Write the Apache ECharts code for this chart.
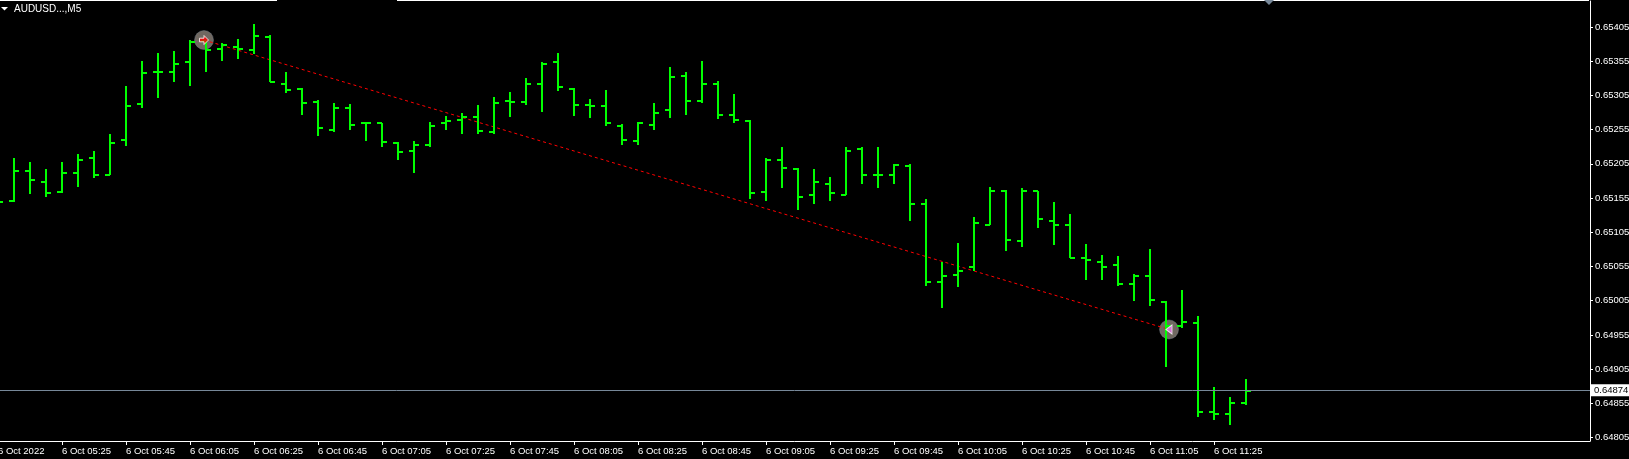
<!DOCTYPE html>
<html>
<head>
<meta charset="utf-8">
<title>AUDUSD M5</title>
<script src="https://cdn.jsdelivr.net/npm/echarts@6/dist/echarts.min.js"></script>
<style>
  html, body { margin: 0; padding: 0; background: #000; }
  #main { width: 1629px; height: 459px; }
</style>
</head>
<body>
<div id="main"></div>
<script>
// M5 bars, first one sits just off the left edge (05:05)
const opens = [0.65149, 0.65150, 0.65194, 0.65179, 0.65164, 0.65192, 0.65213, 0.65189, 0.65240, 0.65293, 0.65339, 0.65339, 0.65354, 0.65385, 0.65373, 0.65376, 0.65372, 0.65391, 0.65322, 0.65315, 0.65296, 0.65255, 0.65287, 0.65265, 0.65264, 0.65235, 0.65224, 0.65232, 0.65264, 0.65269, 0.65274, 0.65252, 0.65297, 0.65296, 0.65322, 0.65354, 0.65315, 0.65291, 0.65290, 0.65261, 0.65239, 0.65262, 0.65283, 0.65334, 0.65297, 0.65322, 0.65277, 0.65267, 0.65164, 0.65210, 0.65197, 0.65159, 0.65175, 0.65160, 0.65226, 0.65189, 0.65189, 0.65202, 0.65147, 0.65033, 0.65042, 0.65054, 0.65116, 0.65165, 0.65093, 0.65165, 0.65121, 0.65116, 0.65068, 0.65061, 0.65057, 0.65030, 0.65041, 0.65003, 0.64968, 0.64972, 0.64842, 0.64839, 0.64855]
const highs = [0.65165, 0.65214, 0.65208, 0.65198, 0.65208, 0.65220, 0.65224, 0.65249, 0.65319, 0.65355, 0.65367, 0.65370, 0.65386, 0.65386, 0.65382, 0.65388, 0.65409, 0.65394, 0.65339, 0.65316, 0.65298, 0.65294, 0.65292, 0.65266, 0.65265, 0.65237, 0.65238, 0.65266, 0.65275, 0.65279, 0.65291, 0.65303, 0.65310, 0.65331, 0.65354, 0.65367, 0.65316, 0.65300, 0.65313, 0.65263, 0.65266, 0.65294, 0.65347, 0.65339, 0.65356, 0.65326, 0.65307, 0.65269, 0.65214, 0.65230, 0.65199, 0.65197, 0.65186, 0.65230, 0.65230, 0.65230, 0.65205, 0.65205, 0.65154, 0.65062, 0.65090, 0.65128, 0.65171, 0.65167, 0.65170, 0.65166, 0.65149, 0.65132, 0.65088, 0.65072, 0.65071, 0.65044, 0.65080, 0.65005, 0.65021, 0.64982, 0.64879, 0.64864, 0.64890]
const lows = [0.65130, 0.65149, 0.65161, 0.65156, 0.65162, 0.65171, 0.65185, 0.65188, 0.65231, 0.65287, 0.65301, 0.65325, 0.65319, 0.65339, 0.65355, 0.65358, 0.65365, 0.65324, 0.65309, 0.65277, 0.65246, 0.65252, 0.65255, 0.65239, 0.65229, 0.65211, 0.65192, 0.65230, 0.65255, 0.65248, 0.65248, 0.65248, 0.65274, 0.65291, 0.65281, 0.65312, 0.65275, 0.65272, 0.65261, 0.65233, 0.65232, 0.65255, 0.65272, 0.65277, 0.65294, 0.65271, 0.65264, 0.65153, 0.65150, 0.65169, 0.65138, 0.65146, 0.65150, 0.65159, 0.65176, 0.65169, 0.65175, 0.65121, 0.65027, 0.64994, 0.65025, 0.65048, 0.65115, 0.65078, 0.65083, 0.65111, 0.65087, 0.65067, 0.65035, 0.65035, 0.65026, 0.65004, 0.64997, 0.64908, 0.64965, 0.64835, 0.64831, 0.64823, 0.64852]
const closes = [0.65149, 0.65194, 0.65182, 0.65162, 0.65192, 0.65211, 0.65189, 0.65236, 0.65290, 0.65338, 0.65339, 0.65351, 0.65383, 0.65372, 0.65379, 0.65373, 0.65392, 0.65325, 0.65313, 0.65294, 0.65258, 0.65286, 0.65262, 0.65264, 0.65237, 0.65223, 0.65232, 0.65261, 0.65267, 0.65274, 0.65253, 0.65294, 0.65296, 0.65322, 0.65351, 0.65318, 0.65291, 0.65290, 0.65264, 0.65240, 0.65264, 0.65280, 0.65332, 0.65297, 0.65322, 0.65277, 0.65269, 0.65162, 0.65210, 0.65199, 0.65157, 0.65178, 0.65162, 0.65224, 0.65189, 0.65189, 0.65204, 0.65147, 0.65033, 0.65041, 0.65049, 0.65118, 0.65166, 0.65094, 0.65166, 0.65125, 0.65116, 0.65068, 0.65065, 0.65055, 0.65030, 0.65041, 0.65006, 0.64968, 0.64974, 0.64842, 0.64839, 0.64855, 0.64873]

// x axis labels, one every 4 bars
const timeLabels = ['6 Oct 2022', '6 Oct 05:25', '6 Oct 05:45', '6 Oct 06:05', '6 Oct 06:25', '6 Oct 06:45', '6 Oct 07:05', '6 Oct 07:25', '6 Oct 07:45', '6 Oct 08:05', '6 Oct 08:25', '6 Oct 08:45', '6 Oct 09:05', '6 Oct 09:25', '6 Oct 09:45', '6 Oct 10:05', '6 Oct 10:25', '6 Oct 10:45', '6 Oct 11:05', '6 Oct 11:25']
const timeTicks = [0, 4, 8, 12, 16, 20, 24, 28, 32, 36, 40, 44, 48, 52, 56, 60, 64, 68, 72, 76]

const priceTicks = [0.64805, 0.64855, 0.64905, 0.64955, 0.65005, 0.65055, 0.65105, 0.65155, 0.65205, 0.65255, 0.65305, 0.65355, 0.65405]
const lastPrice = 0.64874

// trade open / close, x is in bar positions
const tradeX = [12.875, 73.19]
const tradeY = [0.65386, 0.64963]

const GREEN = '#00ff00'
const myChart = echarts.init(document.getElementById('main'))

const renderBar = function (params, api) {
  const i = api.value(0)
  const x = Math.round(api.coord([i, 0])[0])
  const hi = Math.round(api.coord([i, api.value(2)])[1])
  const lo = Math.round(api.coord([i, api.value(3)])[1])
  const op = Math.round(api.coord([i, api.value(1)])[1])
  const cl = Math.round(api.coord([i, api.value(4)])[1])
  const style = { fill: GREEN }
  return {
    type: 'group',
    children: [
      { type: 'rect', shape: { x: x - 1, y: hi, width: 2, height: lo - hi }, style: style },
      { type: 'rect', shape: { x: x - 5, y: op - 1, width: 5, height: 2 }, style: style },
      { type: 'rect', shape: { x: x, y: cl - 1, width: 5, height: 2 }, style: style }
    ]
  }
}

const option = {
  backgroundColor: '#000',
  animation: false,
  textStyle: { fontFamily: 'Liberation Sans' },
  title: {
    text: 'AUDUSD...,M5',
    left: 14,
    top: 4,
    padding: 0,
    textStyle: { color: '#fff', fontSize: 10, fontWeight: 'normal', fontFamily: 'Liberation Sans' }
  },
  grid: { left: -10, right: 39, top: 1, bottom: 18, outerBoundsMode: 'none' },
  xAxis: {
    type: 'value',
    min: -0.5,
    max: 99.5,
    splitLine: { show: false },
    axisLine: { show: true, lineStyle: { color: '#fff', width: 1 } },
    axisTick: { show: true, length: 4, lineStyle: { color: '#fff' }, customValues: timeTicks },
    axisLabel: {
      color: '#fff',
      fontSize: 9.5,
      align: 'left',
      margin: 5,
      customValues: timeTicks,
      formatter: function (v) {
        return timeLabels[timeTicks.indexOf(v)]
      }
    }
  },
  yAxis: {
    type: 'value',
    position: 'right',
    min: 0.64800,
    max: 0.65443,
    splitLine: { show: false },
    axisLine: { show: true, onZero: false, lineStyle: { color: '#fff', width: 1 } },
    axisTick: { show: true, length: 3, lineStyle: { color: '#fff' }, customValues: priceTicks },
    axisLabel: {
      color: '#fff',
      fontSize: 9.5,
      margin: 5,
      customValues: priceTicks,
      formatter: function (v) {
        return v.toFixed(5)
      }
    }
  },
  series: [
    {
      // gray discs under the bars
      type: 'scatter',
      z: 1,
      symbol: 'circle',
      symbolSize: 19,
      silent: true,
      itemStyle: { color: '#8c8279', borderColor: '#7c8a99', borderWidth: 0.5 },
      data: tradeX.map((x, i) => [x, tradeY[i]])
    },
    {
      type: 'line',
      z: 2,
      symbol: 'none',
      silent: true,
      lineStyle: { color: '#ff0000', width: 1, type: [3, 3] },
      data: tradeX.map((x, i) => [x, tradeY[i]])
    },
    {
      type: 'custom',
      z: 3,
      clip: true,
      silent: true,
      renderItem: renderBar,
      encode: { x: 0, y: [1, 2, 3, 4] },
      data: opens.map((o, i) => [i, o, highs[i], lows[i], closes[i]])
    },
    {
      // current price line and its white box
      type: 'line',
      z: 4,
      data: [],
      silent: true,
      markLine: {
        silent: true,
        symbol: 'none',
        animation: false,
        precision: 5,
        lineStyle: { color: '#778899', width: 1, type: 'solid' },
        label: {
          position: 'end',
          distance: 0,
          formatter: lastPrice.toFixed(5),
          color: '#000',
          fontSize: 9.5,
          backgroundColor: '#fff',
          padding: [1, 1, 1, 4]
        },
        data: [{ yAxis: lastPrice }]
      }
    },
    {
      type: 'scatter',
      z: 5,
      silent: true,
      symbol: 'path://M0,3 L5,3 L5,0 L10,5 L5,10 L5,7 L0,7 Z',
      symbolSize: 9,
      itemStyle: { color: '#ff0000', borderColor: '#fff', borderWidth: 1 },
      data: [[tradeX[0], tradeY[0]]]
    },
    {
      type: 'scatter',
      z: 5,
      silent: true,
      symbol: 'triangle',
      symbolRotate: 90,
      symbolSize: [9, 6],
      itemStyle: { color: '#e878e8', borderColor: '#fff', borderWidth: 1 },
      data: [[tradeX[1], tradeY[1]]]
    }
  ],
  graphic: [
    // top frame line has a gap, plus the shift marker and the menu arrow of the title
    { type: 'rect', shape: { x: 0, y: 0, width: 277, height: 1 }, style: { fill: '#fff' } },
    { type: 'rect', shape: { x: 397, y: 0, width: 1192, height: 1 }, style: { fill: '#fff' } },
    { type: 'polygon', shape: { points: [[1264, 0], [1274, 0], [1269, 5]] }, style: { fill: '#778899' } },
    { type: 'polygon', shape: { points: [[1, 7], [8, 7], [4.5, 10.5]] }, style: { fill: '#fff' } }
  ]
}

option && myChart.setOption(option)
window.addEventListener('resize', function () {
  myChart.resize()
})
</script>
</body>
</html>
